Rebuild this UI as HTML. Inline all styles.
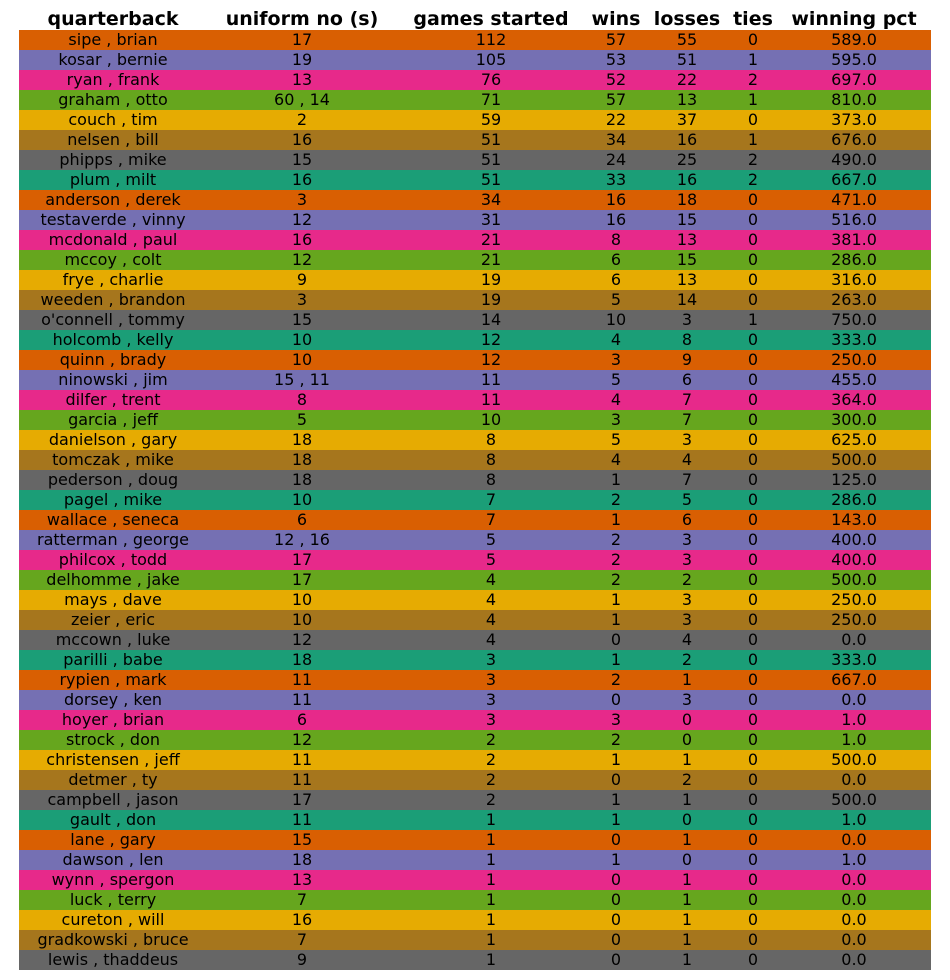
<!DOCTYPE html>
<html><head><meta charset="utf-8"><style>
body{margin:0;width:950px;height:980px;background:#fff;font-family:"DejaVu Sans","Liberation Sans",sans-serif;position:relative;overflow:hidden}
.h{position:absolute;top:8px;font-weight:bold;font-size:19px;transform:translateX(-50%);white-space:nowrap;color:#000}
.r{position:absolute;left:19px;width:912px;height:20px}
.c{position:absolute;top:0;line-height:20px;font-size:16px;transform:translateX(-50%);white-space:nowrap;color:#000}
</style></head><body>
<div id="hdr"></div>
<div id="body"></div>
<script>
const headers=["quarterback","uniform no (s)","games started","wins","losses","ties","winning pct"];
const names=["sipe , brian","kosar , bernie","ryan , frank","graham , otto","couch , tim","nelsen , bill","phipps , mike","plum , milt","anderson , derek","testaverde , vinny","mcdonald , paul","mccoy , colt","frye , charlie","weeden , brandon","o'connell , tommy","holcomb , kelly","quinn , brady","ninowski , jim","dilfer , trent","garcia , jeff","danielson , gary","tomczak , mike","pederson , doug","pagel , mike","wallace , seneca","ratterman , george","philcox , todd","delhomme , jake","mays , dave","zeier , eric","mccown , luke","parilli , babe","rypien , mark","dorsey , ken","hoyer , brian","strock , don","christensen , jeff","detmer , ty","campbell , jason","gault , don","lane , gary","dawson , len","wynn , spergon","luck , terry","cureton , will","gradkowski , bruce","lewis , thaddeus"];
const uniforms=["17","19","13","60 , 14","2","16","15","16","3","12","16","12","9","3","15","10","10","15 , 11","8","5","18","18","18","10","6","12 , 16","17","17","10","10","12","18","11","11","6","12","11","11","17","11","15","18","13","7","16","7","9"];
const started=[112,105,76,71,59,51,51,51,34,31,21,21,19,19,14,12,12,11,11,10,8,8,8,7,7,5,5,4,4,4,4,3,3,3,3,2,2,2,2,1,1,1,1,1,1,1,1];
const wins=[57,53,52,57,22,34,24,33,16,16,8,6,6,5,10,4,3,5,4,3,5,4,1,2,1,2,2,2,1,1,0,1,2,0,3,2,1,0,1,1,0,1,0,0,0,0,0];
const losses=[55,51,22,13,37,16,25,16,18,15,13,15,13,14,3,8,9,6,7,7,3,4,7,5,6,3,3,2,3,3,4,2,1,3,0,0,1,2,1,0,1,0,1,1,1,1,1];
const ties=[0,1,2,1,0,1,2,2,0,0,0,0,0,0,1,0,0,0,0,0,0,0,0,0,0,0,0,0,0,0,0,0,0,0,0,0,0,0,0,0,0,0,0,0,0,0,0];
const pct=["589.0","595.0","697.0","810.0","373.0","676.0","490.0","667.0","471.0","516.0","381.0","286.0","316.0","263.0","750.0","333.0","250.0","455.0","364.0","300.0","625.0","500.0","125.0","286.0","143.0","400.0","400.0","500.0","250.0","250.0","0.0","333.0","667.0","0.0","1.0","1.0","500.0","0.0","500.0","1.0","0.0","1.0","0.0","0.0","0.0","0.0","0.0"];
const colors=["#d95f02","#7570b3","#e7298a","#66a61e","#e6ab02","#a6761d","#666666","#1b9e77"];
const cx=[113,302,491,616,687,753,854];
const colNames=["quarterback","uniform","games-started","wins","losses","ties","winning-pct"];
const hdr=document.getElementById('hdr');
headers.forEach((h,i)=>{const d=document.createElement('div');d.className='h';d.style.left=cx[i]+'px';d.textContent=h;


hdr.appendChild(d);});
const body=document.getElementById('body');
names.forEach((n,r)=>{const row=document.createElement('div');row.className='r';row.style.top=(30+r*20)+'px';row.style.background=colors[r%8];


const vals=[n,uniforms[r],started[r],wins[r],losses[r],ties[r],pct[r]];
vals.forEach((v,i)=>{const c=document.createElement('div');c.className='c';c.style.left=(cx[i]-19)+'px';c.textContent=v;


row.appendChild(c);});
body.appendChild(row);});
</script>
</body></html>
